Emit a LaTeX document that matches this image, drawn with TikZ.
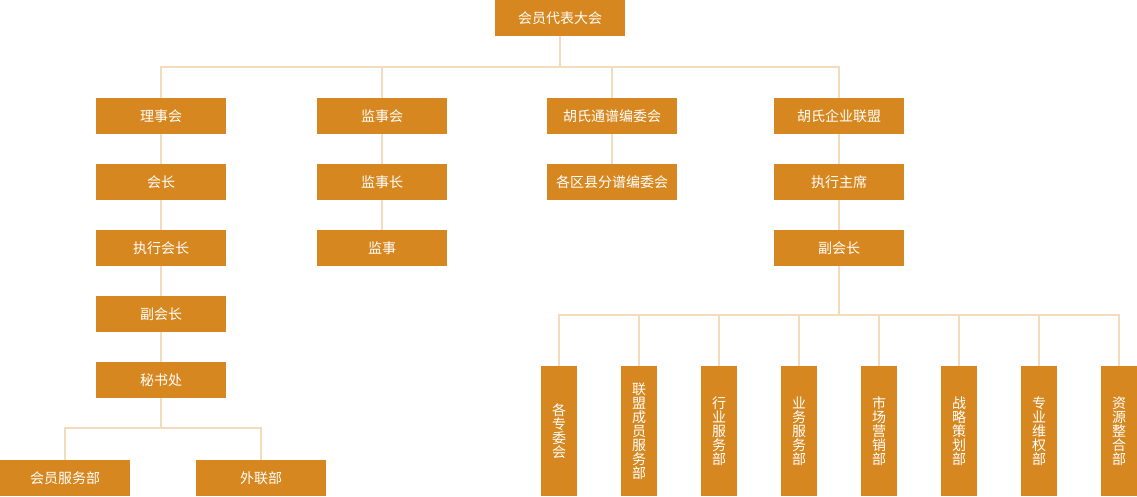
\documentclass[tikz,border=0pt]{standalone}
\usepackage{fontspec}
\newfontfamily\cjk{Noto Sans CJK SC}
\usepackage{tikz}
\usetikzlibrary{positioning}
\definecolor{boxorange}{HTML}{D7871F}
\definecolor{linepeach}{HTML}{F3DCBC}

\begin{document}
\begin{tikzpicture}[
    x=1pt, y=-1pt,
    node distance=30pt,
    box/.style={fill=boxorange, text=white, minimum width=130pt, minimum height=36pt, inner sep=0pt, outer sep=0pt, font=\cjk\fontsize{14}{14}\selectfont},
    vbox/.style={fill=boxorange, text=white, minimum width=36pt, minimum height=130pt, inner sep=0pt, outer sep=0pt, align=center, font=\cjk\fontsize{14}{14}\selectfont},
    link/.style={draw=linepeach, line width=2pt},
]
\useasboundingbox (0,0) rectangle (1137,496);
\node[box] (assembly) at (560,18) {会员代表大会};
% first level
\node[box] (council) at (161,116) {理事会};
\node[box] (supervisors) at (382,116) {监事会};
\node[box] (genealogy) at (612,116) {胡氏通谱编委会};
\node[box] (alliance) at (839,116) {胡氏企业联盟};
% council chain
\node[box, below=of council] (president) {会长};
\node[box, below=of president] (execpres) {执行会长};
\node[box, below=of execpres] (vicepres) {副会长};
\node[box, below=of vicepres] (secretariat) {秘书处};
\node[box] (membersvc) at (65,478) {会员服务部};
\node[box] (liaison) at (261,478) {外联部};
% supervisors chain
\node[box, below=of supervisors] (chiefsup) {监事长};
\node[box, below=of chiefsup] (supervisor) {监事};
% genealogy chain
\node[box, below=of genealogy] (district) {各区县分谱编委会};
% alliance chain
\node[box, below=of alliance] (execchair) {执行主席};
\node[box, below=of execchair] (vicechair) {副会长};
\foreach \name [count=\i] in {{各\\专\\委\\会}, {联\\盟\\成\\员\\服\\务\\部}, {行\\业\\服\\务\\部}, {业\\务\\服\\务\\部}, {市\\场\\营\\销\\部}, {战\\略\\策\\划\\部}, {专\\业\\维\\权\\部}, {资\\源\\整\\合\\部}}
    \node[vbox] (dept\i) at (559+80*\i-80,431) {\name};

% top fork
\foreach \n in {council, supervisors, genealogy, alliance}
    \draw[link] (assembly.south) -- ++(0,31) -| (\n.north);
\draw[link] (council) -- (president);
\draw[link] (president) -- (execpres);
\draw[link] (execpres) -- (vicepres);
\draw[link] (vicepres) -- (secretariat);
\draw[link] (secretariat.south) -- ++(0,30) -| (membersvc.north);
\draw[link] (secretariat.south) -- ++(0,30) -| (liaison.north);
\draw[link] (supervisors) -- (chiefsup);
\draw[link] (chiefsup) -- (supervisor);
\draw[link] (genealogy) -- (district);
\draw[link] (alliance) -- (execchair);
\draw[link] (execchair) -- (vicechair);
% departments fork
\foreach \i in {1,...,8}
    \draw[link] (vicechair.south) -- ++(0,49) -| (dept\i.north);
\end{tikzpicture}
\end{document}
